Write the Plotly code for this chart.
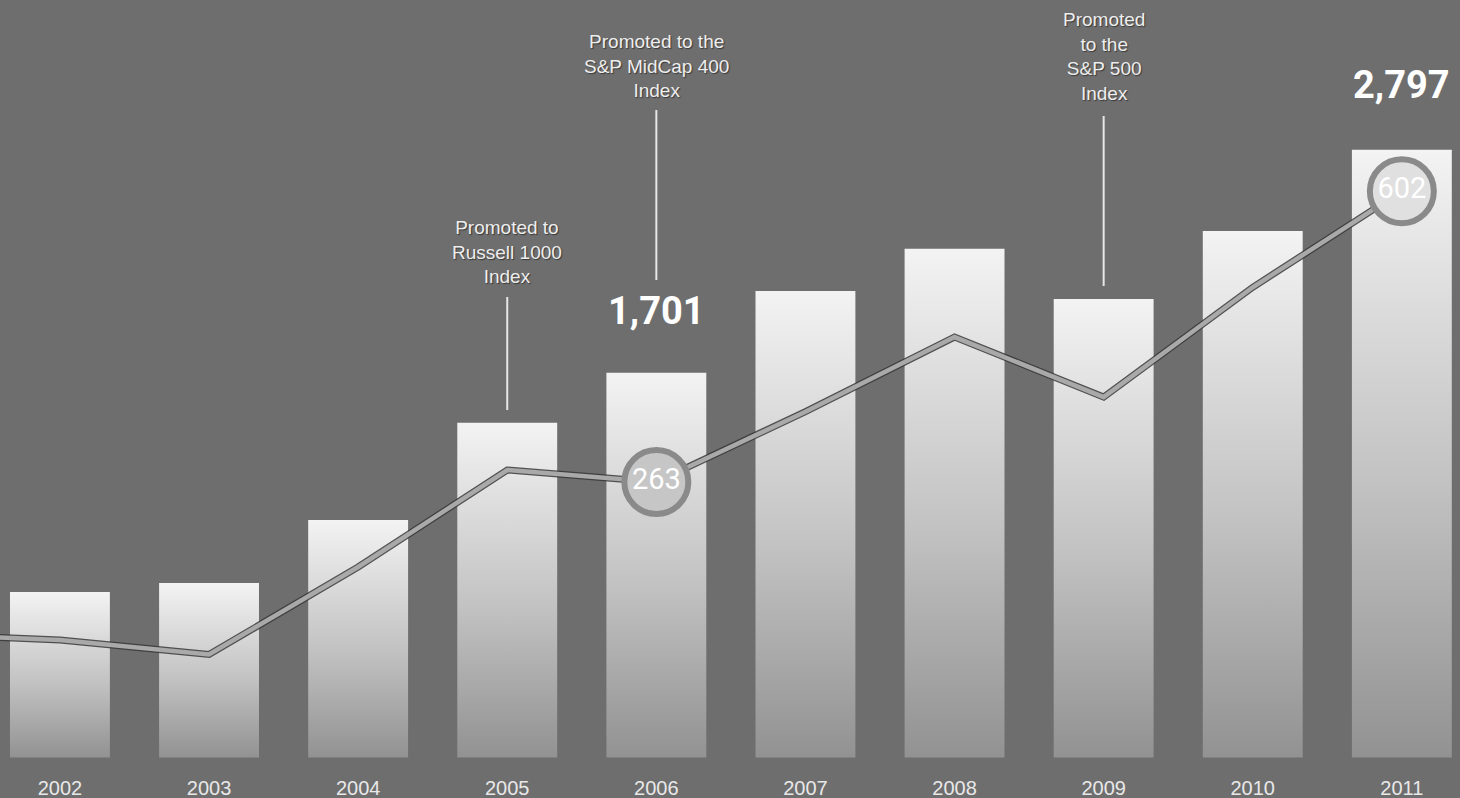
import plotly.graph_objects as go

# ---------------- data ----------------
years = [2002, 2003, 2004, 2005, 2006, 2007, 2008, 2009, 2010, 2011]
bar_values = [624, 668, 978, 1455, 1701, 2103, 2310, 2064, 2398, 2797]

line_years = [2001, 2002, 2003, 2004, 2005, 2006, 2007, 2008, 2009, 2010, 2011]
line_values = [86, 79, 62, 164, 277, 263, 345, 432, 362, 490, 602]

highlight_years = [2006, 2011]
bar_label_years = [2006, 2011]
bar_label_texts = ["1,701", "2,797"]

note_years = [2005, 2006, 2009]
note_texts = [
    "Promoted to<br>Russell 1000<br>Index",
    "Promoted to the<br>S&P MidCap 400<br>Index",
    "Promoted<br>to the<br>S&P 500<br>Index",
]

# ---------------- layout constants ----------------
W, H = 1460, 798
PLOT_H = 770
BG = "#6e6e6e"
BAR_BASE = -190
BAR_HALF = 0.335
note_center_px = [252, 66, 56]
note_line_px = [(297, 410), (110, 280), (116, 286)]
label_shift = [62, 65]
circle_fill = ["#c6c6c6", "#e0e0e0"]


def py(px):
    return 1 - px / PLOT_H


fig = go.Figure()

# bars drawn as gradient-filled rectangles in data coordinates
for yr, v in zip(years, bar_values):
    fig.add_trace(go.Scatter(
        x=[yr - BAR_HALF, yr + BAR_HALF, yr + BAR_HALF, yr - BAR_HALF, yr - BAR_HALF],
        y=[BAR_BASE, BAR_BASE, v, v, BAR_BASE],
        mode="lines", line=dict(width=0), fill="toself",
        fillgradient=dict(type="vertical",
                          colorscale=[[0, "#929292"], [0.45, "#c2c2c2"], [1, "#f3f3f3"]]),
        hoverinfo="text", text=f"{yr}: {v:,}", showlegend=False,
    ))

# line (dark edge + light stroke)
fig.add_trace(go.Scatter(x=line_years, y=line_values, yaxis="y2", mode="lines",
                         line=dict(color="rgba(55,55,55,0.85)", width=7),
                         hoverinfo="skip", showlegend=False))
fig.add_trace(go.Scatter(x=line_years, y=line_values, yaxis="y2", mode="lines",
                         line=dict(color="#a9a9a9", width=4.5),
                         showlegend=False))

# highlighted circles
hx = [y for y in line_years if y in highlight_years]
hv = [v for y, v in zip(line_years, line_values) if y in highlight_years]
fig.add_trace(go.Scatter(
    x=hx, y=hv, yaxis="y2", mode="markers+text",
    marker=dict(size=64, color=circle_fill, opacity=1,
                line=dict(color="#8a8a8a", width=6)),
    text=[str(v) for v in hv], textposition="middle center",
    textfont=dict(family="Roboto", size=29, color="white"),
    showlegend=False,
))

annotations = []
shapes = []
for yr, txt, c, (l0, l1) in zip(note_years, note_texts, note_center_px, note_line_px):
    annotations.append(dict(
        x=yr, y=py(c), xref="x", yref="paper", text=txt, showarrow=False,
        xanchor="center", yanchor="middle", align="center",
        font=dict(family="Liberation Sans, Arial", size=19, color="#eeeeee",
                  shadow="1px 1px 1px #3a3a3a"),
    ))
    shapes.append(dict(type="line", xref="x", yref="paper", x0=yr, x1=yr,
                       y0=py(l0), y1=py(l1), line=dict(color="#e6e6e6", width=2)))

for yr, txt, sh in zip(bar_label_years, bar_label_texts, label_shift):
    v = bar_values[years.index(yr)]
    annotations.append(dict(
        x=yr, y=v, xref="x", yref="y", yshift=sh, text=txt, showarrow=False,
        xanchor="center", yanchor="middle",
        font=dict(family="Roboto", size=38, color="white", weight="bold"),
    ))

fig.update_layout(
    width=W, height=H,
    margin=dict(l=0, r=0, t=0, b=H - PLOT_H),
    paper_bgcolor=BG, plot_bgcolor=BG,
    xaxis=dict(range=[2001.598, 2011.39], tickmode="array", tickvals=years,
               ticktext=[str(y) for y in years], showgrid=False, zeroline=False,
               showline=False, ticks="", ticklabelstandoff=4,
               tickfont=dict(family="Liberation Sans, Arial", size=20, color="#e8e8e8")),
    yaxis=dict(range=[-251, 3533], visible=False, showgrid=False, zeroline=False),
    yaxis2=dict(range=[-72.6, 824.8], overlaying="y", visible=False,
                showgrid=False, zeroline=False),
    annotations=annotations, shapes=shapes,
    showlegend=False,
)

fig.write_html("out.html")
